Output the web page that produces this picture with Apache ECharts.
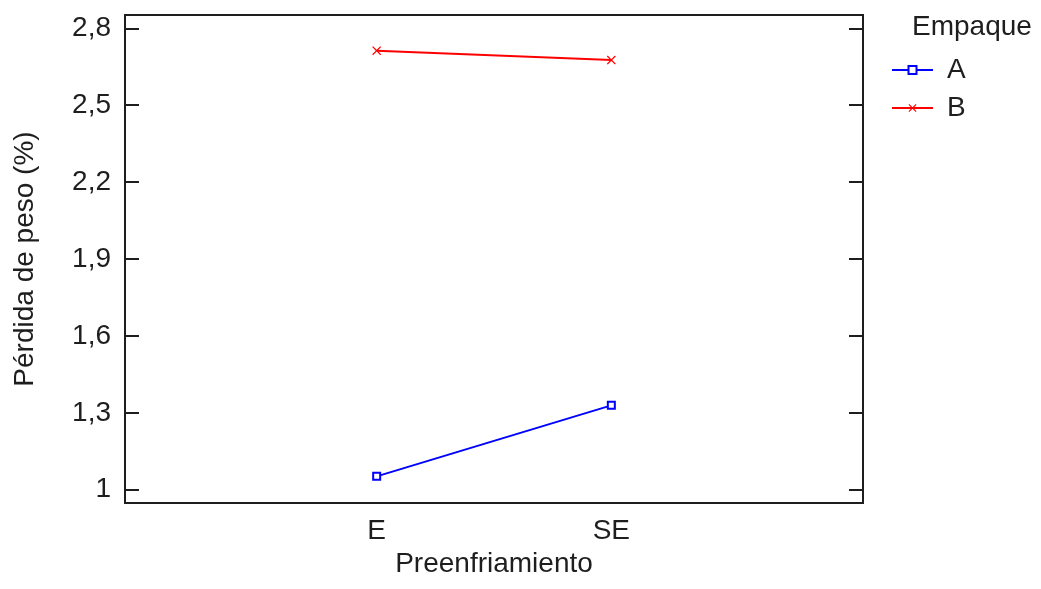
<!DOCTYPE html>
<html>
<head>
<meta charset="utf-8">
<script src="https://cdn.jsdelivr.net/npm/echarts@6/dist/echarts.min.js"></script>
<style>html,body{margin:0;padding:0;background:#fff;}#c{width:1041px;height:589px;}</style>
</head>
<body>
<div id="c"></div>
<script>
var categories = ['E', 'SE'];
var seriesNames = ['A', 'B'];
var valuesA = [1.052, 1.329];
var valuesB = [2.713, 2.676];
var yTicks = [1, 1.3, 1.6, 1.9, 2.2, 2.5, 2.8];
var legendTitle = 'Empaque';
var xTitle = 'Preenfriamiento';
var yTitle = 'Pérdida de peso (%)';

var FONT = '"Liberation Sans", Arial, sans-serif';
var TXT = '#1e1e1e';
var xPos = categories.map(function (c, i) { return i + 1; });
function pairs(vals) { return vals.map(function (v, i) { return [xPos[i], v]; }); }
var crossPath = 'path://M0,1L1,0L5,4L9,0L10,1L6,5L10,9L9,10L5,6L1,10L0,9L4,5Z';

var chart = echarts.init(document.getElementById('c'), null, {renderer: 'canvas'});
chart.setOption({
  animation: false,
  backgroundColor: '#fff',
  textStyle: {fontFamily: FONT, color: TXT},
  grid: {left: 125, right: 178, top: 15, bottom: 86, show: true, borderColor: '#1e1e1e', borderWidth: 2, containLabel: false},
  title: {text: legendTitle, left: 912, top: 13, padding: 0, textStyle: {fontFamily: FONT, fontSize: 28, fontWeight: 'normal', color: TXT}},
  legend: {
    orient: 'vertical', left: 891, top: 56, padding: 0, itemWidth: 41, itemHeight: 10, itemGap: 10,
    textStyle: {fontFamily: FONT, fontSize: 28, color: TXT, padding: [0, 0, 0, 9]},
    data: seriesNames
  },
  xAxis: {
    type: 'value', min: -0.0725, max: 3.0725,
    axisLine: {show: false, onZero: false}, splitLine: {show: false},
    axisTick: {show: false},
    axisLabel: {customValues: xPos, margin: 14, fontSize: 28, color: TXT, fontFamily: FONT,
      formatter: function (v) { return categories[Math.round(v) - 1] || ''; }},
    name: xTitle, nameLocation: 'middle', nameGap: 44,
    nameTextStyle: {fontSize: 28, color: TXT, fontFamily: FONT}
  },
  yAxis: [{
    type: 'value', min: 0.948, max: 2.852, position: 'left',
    axisLine: {show: false, onZero: false}, splitLine: {show: false},
    axisTick: {show: true, inside: true, length: 14, customValues: yTicks, lineStyle: {color: '#1e1e1e', width: 2}},
    axisLabel: {customValues: yTicks, margin: 14, fontSize: 28, color: TXT, fontFamily: FONT,
      formatter: function (v) { return String(Math.round(v * 10) / 10).replace('.', ','); }},
    name: yTitle, nameLocation: 'middle', nameGap: 86,
    nameTextStyle: {fontSize: 28, color: TXT, fontFamily: FONT}
  }, {
    type: 'value', min: 0.948, max: 2.852, position: 'right',
    axisLine: {show: false, onZero: false}, splitLine: {show: false},
    axisTick: {show: true, inside: true, length: 14, customValues: yTicks, lineStyle: {color: '#1e1e1e', width: 2}},
    axisLabel: {show: false}
  }],
  series: [{
    name: seriesNames[0], type: 'line', data: pairs(valuesA),
    symbol: 'emptyRect', symbolSize: 7, showSymbol: true,
    lineStyle: {color: '#0000ff', width: 2},
    itemStyle: {color: '#0000ff', borderColor: '#0000ff', borderWidth: 2}
  }, {
    name: seriesNames[1], type: 'line', data: pairs(valuesB),
    symbol: crossPath, symbolSize: 9, showSymbol: true,
    lineStyle: {color: '#ff0000', width: 2},
    itemStyle: {color: '#ff0000'}
  }]
});
</script>
</body>
</html>
